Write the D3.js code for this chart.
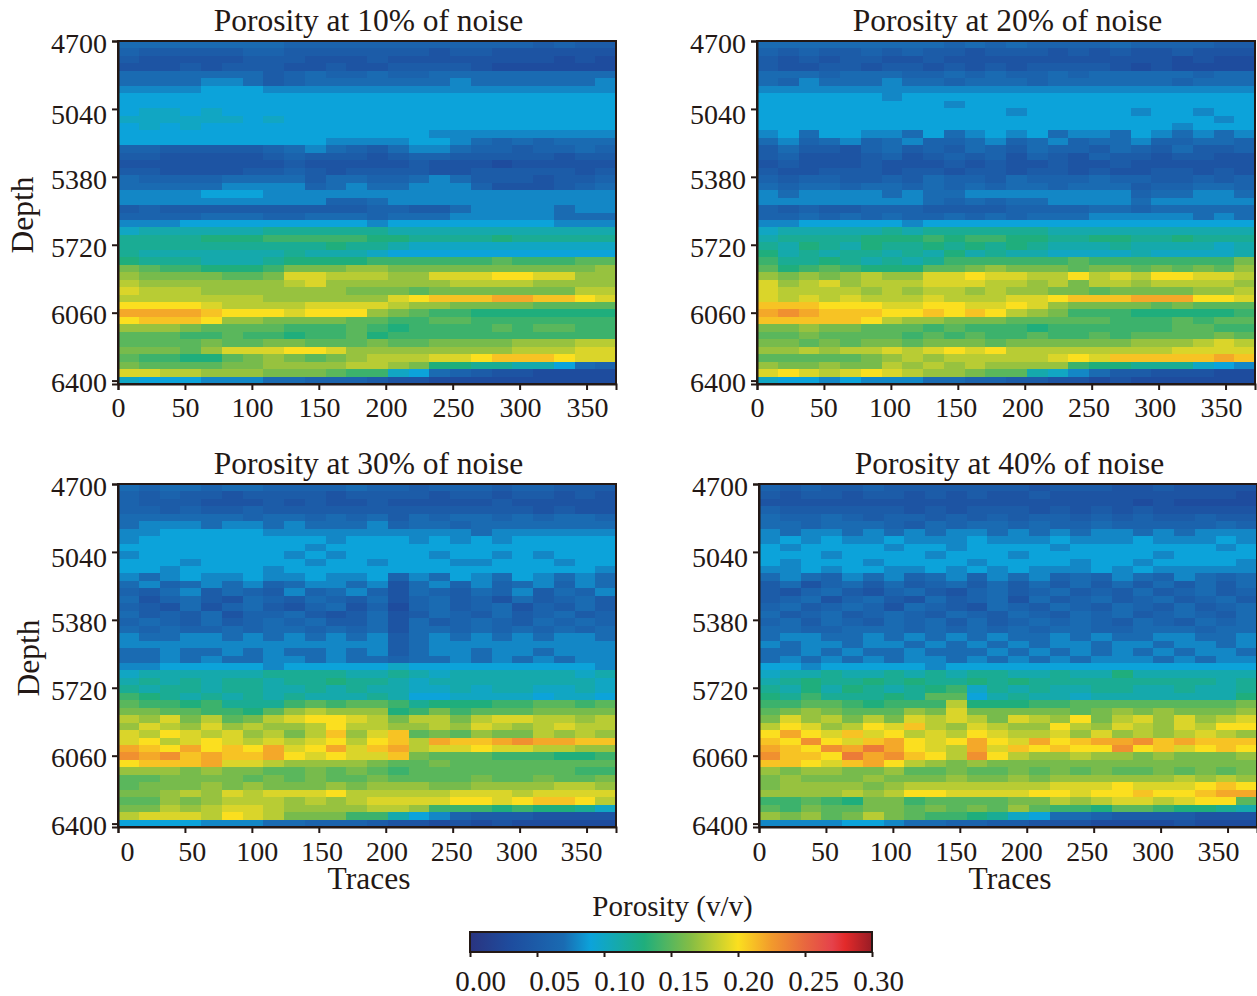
<!DOCTYPE html>
<html lang="en">
<head>
    <meta charset="UTF-8">
    <title>Porosity at different noise levels</title>
    <script src="https://d3js.org/d3.v7.min.js"></script>
    <style>
        body { margin: 0; background: #fff; }
        svg { display: block; }
        text { font-family: "Liberation Serif", serif; font-size: 28px; fill: #231815; }
        .label { font-size: 31.5px; }
        .bar-text { font-size: 29px; }
        .domain, .tick line { stroke: #231815; stroke-width: 2; }
    </style>
</head>
<body>
    <svg id="chart" width="1257" height="996"></svg>

    <script>
        // tick labels
        const traceTicks = [0, 50, 100, 150, 200, 250, 300, 350];
        const depthTicks = [4700, 5040, 5380, 5720, 6060, 6400];
        const porosityTicks = [0, 0.05, 0.1, 0.15, 0.2, 0.25, 0.3];

        // colormap
        const cmapStops = [0, 0.03, 0.07, 0.09, 0.105, 0.13, 0.165, 0.2, 0.225, 0.25, 0.27, 0.28, 0.3];
        const cmapColors = ["#2a3480", "#1e4c9e", "#1a6bb2", "#0ca3da", "#13a8b8", "#1fae7c", "#86bd44", "#fbdf1f", "#f29a2c", "#e8673f", "#e5424b", "#e32a2a", "#981c25"];

        // porosity x 100, one row per depth step, one value per 15.5 traces
        const noise10 = [
            [7,7,7,7,7,7,7,7,6,6,6,6,6,6,6,6,6,6,6,6,5,6,5,5],
            [6,5,5,5,5,5,6,6,5,5,5,5,5,5,5,4,5,5,4,4,4,4,4,4],
            [5,4,4,4,4,4,5,5,5,4,4,4,5,4,4,4,4,4,4,4,4,3,4,3],
            [4,4,4,5,4,5,5,5,4,4,5,4,4,5,5,5,5,4,3,3,3,3,3,3],
            [7,7,7,7,7,7,7,5,6,7,6,6,7,6,6,7,7,7,7,7,7,7,7,7],
            [7,7,7,7,8,8,7,5,6,7,7,7,7,7,7,7,8,7,7,7,7,7,7,8],
            [8,8,8,8,9,9,9,8,8,8,8,8,8,8,8,8,8,8,8,8,8,8,8,8],
            [9,9,9,9,9,9,9,9,9,9,9,9,9,9,9,9,9,9,9,9,9,9,9,9],
            [9,9,9,9,9,9,9,9,9,9,9,9,9,9,9,9,9,9,9,9,9,9,9,9],
            [9,10,10,9,10,9,9,9,9,9,9,9,9,9,9,9,9,9,9,9,9,9,9,9],
            [10,10,10,10,10,10,9,10,9,9,9,9,9,9,9,9,9,9,9,9,9,9,9,9],
            [9,10,9,10,9,9,9,9,9,9,9,9,9,9,9,9,9,9,9,9,9,9,9,9],
            [9,9,9,9,9,9,9,9,9,9,9,9,9,9,9,8,8,8,8,8,8,8,8,8],
            [9,9,9,9,9,9,9,9,9,9,8,8,8,8,9,9,8,7,6,7,6,7,7,7],
            [6,6,5,5,5,5,5,6,7,8,7,6,5,7,8,8,7,6,6,5,6,6,7,6],
            [5,5,4,4,4,4,4,5,6,5,5,5,4,5,6,6,5,5,5,5,5,4,5,5],
            [4,4,4,4,4,4,4,4,5,4,4,4,4,4,5,4,4,4,3,4,4,4,4,4],
            [5,5,4,4,4,4,5,5,6,5,4,5,5,5,5,4,4,5,5,5,5,5,4,5],
            [7,6,6,6,6,7,7,7,7,5,7,7,6,6,7,8,7,5,5,5,4,5,5,6],
            [7,7,7,7,7,8,8,8,8,6,7,8,7,7,8,8,8,6,4,4,4,5,6,7],
            [8,8,8,8,9,9,9,8,8,8,8,8,8,8,8,8,8,8,8,8,8,8,8,8],
            [8,8,8,8,8,8,8,8,8,8,6,6,7,8,8,8,8,8,8,8,8,8,8,8],
            [5,6,5,5,5,5,5,5,5,5,5,5,6,6,5,5,7,8,8,8,8,7,8,8],
            [6,6,6,6,7,7,7,6,6,7,7,7,6,7,7,7,8,8,8,8,8,7,7,7],
            [8,8,8,9,9,9,9,9,9,9,9,9,8,9,9,9,9,9,9,9,9,8,8,8],
            [10,11,11,11,11,11,11,12,12,12,12,12,12,11,11,11,11,11,11,11,11,11,11,11],
            [12,12,12,12,13,13,13,14,14,14,14,14,13,13,12,12,12,12,13,12,12,12,12,12],
            [12,12,12,12,12,12,12,12,12,12,13,12,12,11,10,10,10,10,10,10,10,10,10,10],
            [12,11,11,11,11,11,11,11,12,11,11,11,10,9,9,9,9,9,9,9,9,9,9,9],
            [13,12,12,12,11,11,11,12,13,13,13,13,14,14,14,14,14,14,15,14,14,14,15,15],
            [16,15,14,14,13,13,13,14,16,16,16,17,17,16,16,16,16,16,16,16,16,16,16,17],
            [17,16,16,16,16,15,15,16,19,19,18,18,18,17,17,19,19,19,20,20,19,19,17,17],
            [18,17,17,17,17,17,17,17,18,19,17,17,17,17,17,17,18,18,18,18,17,17,17,17],
            [19,18,18,18,17,17,17,17,17,17,17,16,16,16,15,16,16,16,16,16,16,16,18,18],
            [18,18,18,18,18,18,18,17,17,17,17,17,17,19,20,21,21,21,22,22,21,21,20,19],
            [20,20,20,20,19,18,18,18,18,19,19,19,19,18,17,17,16,16,16,16,15,15,15,15],
            [22,22,22,22,21,20,20,20,19,20,20,20,17,16,15,14,14,13,13,13,13,13,13,13],
            [20,21,21,21,20,17,17,16,16,16,16,15,15,14,14,15,15,14,14,14,14,14,14,14],
            [17,17,17,16,15,15,15,15,14,14,14,15,14,13,14,14,14,14,15,14,15,15,14,14],
            [15,15,15,14,14,15,14,14,13,14,14,15,13,14,14,14,14,14,14,14,14,14,14,14],
            [15,15,15,15,16,15,15,16,16,15,15,15,16,15,15,16,16,16,16,17,17,17,18,18],
            [16,16,16,15,17,19,19,19,20,20,19,17,17,17,17,17,17,17,17,18,18,18,19,19],
            [15,14,14,13,13,15,16,17,16,15,16,17,18,18,18,19,19,20,21,21,21,20,19,19],
            [16,15,15,15,15,16,16,17,17,17,17,18,18,17,16,13,13,12,12,11,11,9,7,6],
            [19,19,18,18,17,17,17,16,16,16,15,14,14,10,9,7,6,5,4,4,3,3,3,3],
            [10,9,9,9,8,8,8,7,7,6,6,6,5,4,4,3,3,3,3,3,3,3,3,3]
        ];
        const noise20 = [
            [7,7,7,7,7,7,7,7,7,6,7,6,7,6,6,6,6,7,6,6,6,6,5,5],
            [6,5,6,5,5,6,5,6,5,5,4,5,5,5,4,5,4,5,4,4,5,4,4,4],
            [5,4,5,4,5,5,4,4,5,4,4,4,4,4,4,4,4,4,4,4,3,4,3,3],
            [5,4,4,5,5,4,5,5,4,5,4,5,4,5,5,5,5,4,3,4,3,3,3,3],
            [7,7,7,6,7,7,7,6,6,7,6,7,6,6,7,6,7,7,7,7,7,6,7,7],
            [7,6,8,7,7,7,8,7,7,6,7,7,7,6,7,7,7,7,7,7,6,7,7,7],
            [8,8,8,8,8,8,8,8,8,8,8,8,8,8,8,8,8,8,8,8,8,8,8,8],
            [9,9,9,9,9,9,8,9,9,9,9,9,9,9,9,9,9,9,9,9,9,9,9,9],
            [9,9,9,9,9,9,9,9,9,8,9,9,9,9,9,9,9,9,9,9,9,9,9,9],
            [9,9,9,9,9,9,9,9,9,9,9,9,8,9,9,9,9,9,8,9,9,8,9,9],
            [9,9,9,9,9,9,9,9,9,9,9,9,9,9,9,9,9,9,9,9,9,9,8,9],
            [9,9,9,9,9,9,9,9,9,9,9,9,9,9,9,9,9,9,9,9,8,9,9,9],
            [8,9,7,9,9,8,8,7,9,7,8,9,8,9,7,8,8,7,9,8,7,8,7,8],
            [7,8,6,7,8,6,7,8,6,6,7,8,6,7,8,6,7,7,8,6,6,7,7,6],
            [5,7,5,5,4,6,7,5,6,5,7,6,5,7,6,6,5,7,6,5,7,5,5,6],
            [5,6,4,4,4,5,6,4,5,6,5,6,4,6,5,4,6,5,5,4,5,5,4,4],
            [4,5,4,4,4,5,4,4,4,5,4,5,4,4,5,4,4,5,4,4,4,4,4,4],
            [5,4,4,5,5,5,4,5,5,4,5,5,4,5,5,4,5,4,4,5,5,4,5,4],
            [6,5,6,6,5,5,6,5,7,6,6,5,7,6,6,6,7,6,6,5,5,6,5,6],
            [7,6,7,7,6,7,7,6,7,6,7,6,7,7,6,7,7,7,5,6,6,7,7,6],
            [8,7,8,8,8,8,7,8,7,7,8,8,8,8,8,8,8,8,6,7,7,8,8,7],
            [8,8,8,8,8,8,8,8,7,6,7,6,7,7,8,8,8,8,7,8,8,8,8,8],
            [6,5,6,5,5,6,6,6,5,5,5,5,6,6,6,6,7,7,6,7,7,7,7,7],
            [6,6,7,6,7,6,7,6,6,7,6,7,6,7,7,7,8,8,8,8,8,7,8,7],
            [8,8,9,9,9,9,9,8,9,9,9,9,9,9,9,9,9,9,9,9,9,9,9,9],
            [10,11,11,11,11,11,12,11,12,12,12,12,12,12,11,11,11,11,11,11,11,11,11,11],
            [11,12,12,12,12,13,13,13,14,13,14,14,13,13,12,12,13,13,12,12,13,12,12,12],
            [12,11,13,12,11,13,12,12,13,12,13,12,13,12,11,11,11,12,11,11,11,11,10,11],
            [13,11,12,11,12,12,11,12,11,13,11,12,11,11,10,10,10,10,11,10,10,10,10,11],
            [14,12,12,13,12,11,12,11,12,14,14,14,14,14,14,15,14,14,14,14,14,14,14,16],
            [15,13,14,15,14,13,13,13,15,15,16,17,16,16,16,15,16,16,15,16,15,16,15,17],
            [17,16,17,16,17,18,17,17,19,19,20,19,19,18,18,20,18,19,18,20,20,19,19,18],
            [19,17,18,19,17,18,18,18,19,19,19,18,18,17,18,16,18,18,17,18,18,18,18,17],
            [19,18,18,18,18,17,18,17,18,18,17,18,17,17,16,16,15,16,16,16,16,17,17,18],
            [19,18,19,18,19,18,18,18,19,18,18,18,19,19,20,21,21,21,22,22,22,20,20,19],
            [21,21,21,20,20,20,19,19,20,20,19,19,20,19,17,16,16,16,16,15,16,15,15,15],
            [22,23,22,21,21,21,20,20,21,20,21,20,18,17,16,14,14,14,13,13,13,13,13,14],
            [21,21,21,21,21,20,18,17,17,16,16,16,15,15,15,15,15,14,14,14,15,14,15,15],
            [16,16,17,16,16,15,15,15,14,15,14,14,14,13,14,14,14,14,14,14,15,15,14,14],
            [15,15,16,15,15,15,15,14,15,14,15,14,14,15,14,14,15,14,15,15,15,15,16,15],
            [16,16,15,16,15,16,16,15,16,16,16,15,16,16,16,16,16,16,17,17,17,18,19,18],
            [17,17,18,17,18,18,19,18,19,20,19,20,18,18,18,18,18,18,18,18,19,19,19,19],
            [15,15,15,15,15,16,17,18,17,18,18,18,18,18,19,20,19,21,21,21,21,21,22,21],
            [17,16,16,17,16,16,18,17,18,17,18,17,17,17,17,14,13,13,12,12,12,10,9,8],
            [19,20,19,18,19,20,19,18,17,17,16,15,15,11,10,8,7,5,5,4,4,4,3,3],
            [10,9,9,8,9,8,8,8,7,7,6,6,5,5,4,4,3,4,3,3,3,3,3,3]
        ];
        const noise30 = [
            [7,6,7,7,6,7,7,6,6,6,6,7,6,6,5,6,6,6,5,6,6,5,5,5],
            [6,5,6,5,5,4,5,5,5,5,4,5,5,5,5,4,5,5,4,5,5,4,5,4],
            [6,5,5,5,4,4,4,5,4,5,4,4,5,4,4,4,4,4,5,4,4,4,4,4],
            [6,6,5,6,5,5,6,5,5,5,5,5,5,5,5,5,5,5,5,5,4,5,4,4],
            [7,7,7,7,7,7,6,7,7,6,7,6,7,5,7,6,7,7,6,7,6,7,7,6],
            [7,8,8,8,7,8,8,7,8,7,7,7,8,6,7,7,6,7,7,7,7,7,7,7],
            [8,8,9,9,9,9,9,8,8,8,8,8,8,8,8,8,8,7,8,8,8,8,8,8],
            [8,9,9,9,9,9,9,9,9,9,8,9,9,9,8,9,8,9,8,9,9,9,9,9],
            [9,9,9,9,9,9,9,9,9,8,9,9,9,9,9,9,9,9,9,9,9,9,9,9],
            [8,9,9,9,9,9,9,9,8,9,8,9,9,9,9,8,9,9,8,9,8,9,9,9],
            [9,9,9,8,9,9,9,9,9,8,9,9,8,9,9,9,8,8,9,9,9,8,9,9],
            [9,9,8,9,9,9,9,8,9,9,9,9,9,9,9,9,9,9,9,9,9,9,9,8],
            [8,7,8,9,8,8,9,8,8,9,8,8,9,6,8,7,9,8,7,9,8,7,8,7],
            [7,8,6,7,8,7,8,6,7,8,8,7,8,4,7,8,6,8,6,7,8,6,8,7],
            [6,5,7,8,5,7,6,5,8,6,7,8,6,4,7,6,5,7,6,8,5,7,6,8],
            [7,4,6,7,5,4,7,6,5,7,6,5,7,4,6,7,5,6,4,7,5,6,7,5],
            [6,5,4,7,4,6,7,5,4,6,7,4,6,3,6,7,5,6,7,4,6,5,7,5],
            [7,5,6,5,7,4,6,6,7,5,4,5,7,4,5,7,6,5,7,5,6,7,5,6],
            [6,7,6,5,7,5,6,7,6,7,5,5,7,4,7,5,6,7,6,5,7,6,7,6],
            [7,6,7,6,6,7,6,7,7,6,7,6,7,4,7,7,6,7,6,7,6,7,6,7],
            [8,7,7,8,8,7,8,7,8,7,8,7,8,5,7,8,7,8,7,8,7,8,8,7],
            [8,8,8,8,8,8,8,8,8,8,8,8,8,5,7,8,8,8,8,8,8,8,8,8],
            [7,7,8,7,7,8,7,8,7,7,8,7,8,5,7,8,8,7,8,8,7,8,8,8],
            [7,7,8,7,8,7,7,8,8,7,8,7,7,6,7,7,8,7,8,7,8,7,8,8],
            [8,8,9,9,9,9,9,8,9,9,9,9,9,10,9,9,9,9,9,9,9,9,9,8],
            [10,11,11,11,11,11,11,12,12,12,12,11,11,12,11,10,11,11,11,11,11,11,10,11],
            [11,12,11,12,11,12,12,11,12,12,13,12,12,11,10,11,11,11,11,11,11,11,11,10],
            [12,11,12,12,11,12,12,11,11,12,11,12,11,11,10,10,11,10,11,11,10,10,11,10],
            [14,13,12,11,12,11,12,11,12,11,11,11,12,11,9,9,10,10,10,10,9,10,10,9],
            [15,14,14,13,14,12,12,12,14,15,14,15,15,14,12,13,13,13,14,14,15,15,14,15],
            [16,16,15,15,14,14,13,15,17,18,17,17,17,13,14,16,14,15,15,15,16,16,16,16],
            [18,17,19,16,18,15,16,18,19,20,20,19,18,16,18,18,16,18,19,19,18,18,17,18],
            [17,19,18,17,19,17,18,17,17,18,20,18,18,17,17,18,17,19,18,17,18,19,18,18],
            [19,18,20,19,18,19,17,18,16,18,21,17,19,21,15,16,15,17,16,16,18,17,18,17],
            [19,20,18,19,20,19,18,19,18,19,20,18,20,21,18,22,21,21,22,23,22,22,21,21],
            [22,21,20,22,20,21,20,22,19,20,22,19,21,22,18,19,19,20,19,19,18,18,17,17],
            [23,22,23,21,22,21,21,22,20,19,20,19,19,21,16,15,15,15,14,14,14,13,13,14],
            [20,21,21,21,22,19,19,18,17,17,17,17,16,15,15,16,15,15,15,15,15,15,15,15],
            [17,17,17,16,17,16,16,15,15,16,15,16,15,14,15,15,15,15,15,15,15,15,14,14],
            [15,15,16,16,16,16,15,16,15,16,15,15,16,15,15,15,15,16,15,15,16,15,15,16],
            [15,16,16,16,17,16,17,16,16,16,17,16,17,17,17,16,16,17,17,17,17,18,18,17],
            [16,16,17,18,17,19,18,19,19,19,20,18,18,18,18,18,19,19,19,18,19,19,19,19],
            [15,15,17,16,17,18,18,18,17,18,17,18,19,19,19,19,20,20,19,20,21,21,20,18],
            [16,16,18,17,18,19,19,18,17,17,17,17,18,18,17,14,14,14,13,14,13,13,12,10],
            [18,19,19,19,18,20,19,18,16,16,16,14,14,11,9,8,6,5,5,5,4,4,4,4],
            [9,9,9,9,8,8,8,7,7,6,6,6,5,4,4,3,4,3,4,3,3,3,3,3]
        ];
        const noise40 = [
            [6,5,6,5,5,6,5,5,5,5,5,5,5,4,5,5,5,4,4,5,4,4,4,4],
            [5,4,5,5,4,5,5,4,5,4,5,4,4,5,4,4,4,4,4,4,4,4,4,3],
            [4,4,4,4,4,4,4,4,4,4,4,4,4,4,4,4,4,4,3,4,3,3,3,3],
            [6,5,5,5,5,5,5,4,5,4,5,5,5,4,5,4,5,4,5,4,4,4,4,4],
            [7,6,6,7,6,5,6,6,5,6,5,6,5,6,6,5,6,5,6,5,5,6,5,5],
            [7,7,6,7,7,7,6,5,7,6,7,7,6,7,6,6,7,6,6,6,6,6,7,6],
            [8,7,8,8,7,8,7,8,7,8,8,7,8,7,8,7,8,8,7,8,7,8,8,8],
            [8,9,8,9,8,8,9,8,8,8,9,8,8,8,9,8,8,8,9,8,8,8,9,8],
            [9,8,9,9,9,9,8,9,9,8,9,9,9,9,8,9,9,9,9,9,9,9,8,9],
            [9,9,9,8,9,9,9,9,8,9,9,9,8,9,9,9,9,9,9,8,9,9,9,9],
            [9,8,9,9,9,8,9,9,9,9,8,9,9,9,9,8,9,9,8,9,9,9,9,8],
            [8,8,9,8,9,9,8,8,9,8,9,8,9,8,8,8,9,8,9,8,8,8,8,8],
            [7,8,7,6,8,7,8,6,7,8,6,8,7,8,6,7,6,8,7,6,8,7,6,7],
            [5,7,4,6,7,5,7,5,6,7,5,7,5,7,5,7,5,7,5,7,5,7,5,7],
            [5,4,6,7,5,4,6,7,5,4,6,7,5,6,7,5,6,5,7,5,6,7,5,6],
            [5,6,7,4,6,7,5,4,7,5,6,7,4,7,5,6,7,5,6,7,5,6,7,5],
            [6,7,5,6,7,6,4,7,6,5,4,7,6,5,7,6,5,7,6,5,7,5,6,7],
            [7,5,6,7,5,6,7,6,5,7,6,5,7,6,5,7,6,7,5,6,7,6,5,7],
            [6,7,5,7,6,5,7,6,7,5,7,5,6,7,6,7,6,5,7,6,5,7,6,7],
            [7,7,6,6,7,7,7,6,7,6,7,6,7,6,7,7,6,6,7,7,7,6,7,7],
            [7,8,8,7,7,8,7,8,7,8,7,8,7,7,8,7,8,7,7,8,8,7,7,8],
            [8,7,8,8,7,8,8,7,8,7,8,7,8,7,8,8,7,8,8,7,8,8,7,8],
            [7,7,8,7,8,7,7,8,7,7,7,8,7,8,7,8,7,8,7,8,7,8,8,7],
            [7,8,7,8,7,8,7,8,8,7,8,7,8,7,8,7,8,8,8,7,8,7,8,8],
            [9,9,8,9,9,9,9,9,8,9,9,9,9,9,9,9,9,9,9,9,9,9,9,9],
            [10,11,11,12,11,11,12,11,12,11,12,12,11,11,12,11,11,13,11,11,11,11,11,11],
            [11,12,13,12,12,13,12,13,12,12,13,12,13,12,12,12,12,12,12,12,12,12,11,12],
            [12,11,13,11,13,12,11,12,13,14,10,12,11,12,11,11,12,12,11,11,12,11,11,12],
            [13,12,14,12,12,12,13,12,15,15,9,11,12,11,11,10,11,11,11,11,11,11,11,13],
            [14,14,15,15,14,13,14,14,14,18,13,13,13,14,14,15,15,15,15,15,15,15,15,16],
            [15,16,17,16,15,15,15,17,16,19,16,16,16,16,16,15,16,17,16,17,16,16,16,17],
            [16,19,17,18,16,18,16,19,18,19,18,16,19,18,17,20,16,18,19,17,19,17,18,19],
            [18,20,19,17,18,20,19,21,18,17,19,18,17,17,20,18,17,19,18,17,19,18,20,20],
            [20,22,20,19,21,19,20,18,19,18,20,19,18,18,19,17,19,17,18,17,18,19,18,17],
            [21,20,23,20,19,21,22,20,19,20,22,20,19,22,20,21,22,22,23,21,22,21,21,21],
            [22,21,20,23,22,24,22,20,19,18,22,19,21,20,21,20,20,23,20,21,19,20,21,20],
            [23,21,21,20,24,22,23,21,20,18,23,20,18,17,17,18,17,17,16,17,16,16,16,17],
            [21,21,20,19,21,22,20,18,17,16,17,16,16,16,16,16,16,16,16,16,16,16,16,16],
            [17,16,17,17,16,16,17,15,15,16,15,15,16,15,16,15,16,15,15,16,15,16,15,16],
            [16,17,16,16,16,17,16,16,16,17,16,16,17,16,17,17,17,17,17,17,18,17,18,17],
            [16,17,17,17,17,16,17,18,18,18,18,18,18,18,19,19,19,20,19,19,19,20,21,20],
            [17,17,17,17,18,17,18,20,20,19,19,19,19,20,20,19,20,20,21,20,20,21,22,22],
            [14,14,15,14,13,16,16,14,15,15,15,15,16,16,18,17,18,19,19,18,19,20,20,15],
            [15,14,16,15,15,16,16,15,16,15,16,15,17,15,14,14,13,15,15,14,13,13,12,11],
            [17,16,17,15,16,18,16,15,14,14,13,12,10,9,7,7,6,5,5,5,5,4,4,4],
            [8,8,8,8,9,9,8,7,7,6,6,5,5,4,4,4,3,3,3,3,4,3,3,3]
        ];

        const panels = [
            { title: "Porosity at 10% of noise", values: noise10, left: 118, top: 41, xLabels: [118, 587], depth: 24, depthY: 215 },
            { title: "Porosity at 20% of noise", values: noise20, left: 757, top: 41, xLabels: [757, 1221] },
            { title: "Porosity at 30% of noise", values: noise30, left: 118, top: 484, xLabels: [127, 581], depth: 30, depthY: 658, traces: true },
            { title: "Porosity at 40% of noise", values: noise40, left: 759, top: 484, xLabels: [759, 1218], traces: true }
        ];

        const panelWidth = 498, panelHeight = 343;
        const maxTrace = 372, maxDepth = 6417;
        const traceStep = 15.5;
        const depthStep = (maxDepth - 4700) / noise10.length;
        const depthLabelDy = [3, 6, 3, 3, 2, 2];

        const svg = d3.select("#chart");
        const color = d3.scaleLinear().domain(cmapStops).range(cmapColors).clamp(true);

        panels.forEach(p => {
            const x = d3.scaleLinear().domain([0, maxTrace]).range([p.left, p.left + panelWidth]);
            const y = d3.scaleLinear().domain([4700, maxDepth]).range([p.top, p.top + panelHeight]);
            const xLabel = d3.scaleLinear().domain([0, 350]).range(p.xLabels);

            // heatmap cells
            const g = svg.append("g").attr("shape-rendering", "crispEdges");
            p.values.forEach((row, r) => {
                g.selectAll(null)
                    .data(row)
                    .enter()
                    .append("rect")
                    .attr("x", (d, c) => x(c * traceStep))
                    .attr("y", y(4700 + r * depthStep))
                    .attr("width", x(traceStep) - x(0) + 0.5)
                    .attr("height", y(4700 + depthStep) - y(4700) + 0.5)
                    .attr("fill", d => color(d / 100));
            });

            // axes
            svg.append("g")
                .attr("transform", `translate(0,${p.top + panelHeight})`)
                .call(d3.axisBottom(x).tickValues(traceTicks).tickSizeOuter(0).tickSize(6))
                .call(a => a.selectAll("text")
                    .attr("x", d => xLabel(d) - x(d))
                    .attr("y", p.traces ? 14 : 13));

            svg.append("g")
                .attr("transform", `translate(${p.left},0)`)
                .call(d3.axisLeft(y).tickValues(depthTicks).tickFormat(d3.format("d")).tickSizeOuter(0).tickSize(6))
                .call(a => a.selectAll("text")
                    .attr("x", -11)
                    .attr("y", (d, i) => depthLabelDy[i]));

            // frame
            svg.append("rect")
                .attr("x", p.left)
                .attr("y", p.top)
                .attr("width", panelWidth)
                .attr("height", panelHeight)
                .attr("fill", "none")
                .attr("stroke", "#231815")
                .attr("stroke-width", 2);

            svg.append("text")
                .attr("class", "label")
                .attr("x", p.left + 250.5)
                .attr("y", p.top - 10)
                .attr("text-anchor", "middle")
                .text(p.title);

            if (p.traces) {
                svg.append("text")
                    .attr("class", "label")
                    .attr("x", p.left + 251)
                    .attr("y", p.top + panelHeight + 62)
                    .attr("text-anchor", "middle")
                    .text("Traces");
            }

            if (p.depth) {
                svg.append("text")
                    .attr("class", "label")
                    .attr("transform", `translate(${p.depth + 9},${p.depthY}) rotate(-90)`)
                    .attr("text-anchor", "middle")
                    .text("Depth");
            }
        });

        // colorbar
        const barX = d3.scaleLinear().domain([0, 0.3]).range([470, 872]);
        const barLabelX = [480, 554, 619, 683, 748, 813, 878];

        const gradient = svg.append("defs").append("linearGradient").attr("id", "porosity-gradient");
        gradient.selectAll("stop")
            .data(cmapStops)
            .enter()
            .append("stop")
            .attr("offset", d => d / 0.3)
            .attr("stop-color", d => color(d));

        svg.append("rect")
            .attr("x", barX(0))
            .attr("y", 932)
            .attr("width", barX(0.3) - barX(0))
            .attr("height", 20)
            .attr("fill", "url(#porosity-gradient)")
            .attr("stroke", "#231815")
            .attr("stroke-width", 2);

        svg.append("g")
            .attr("transform", "translate(0,952)")
            .call(d3.axisBottom(barX).tickValues(porosityTicks).tickSizeOuter(0).tickSize(5).tickFormat(d3.format(".2f")))
            .call(a => a.select(".domain").remove())
            .call(a => a.selectAll("text")
                .attr("class", "bar-text")
                .attr("x", (d, i) => barLabelX[i] - barX(d))
                .attr("y", 18));

        svg.append("text")
            .attr("class", "bar-text")
            .attr("x", 672.5)
            .attr("y", 916)
            .attr("text-anchor", "middle")
            .text("Porosity (v/v)");

        // d3.axis sets its own font on the axis group
        svg.selectAll("g").attr("font-family", null).attr("font-size", null);
    </script>
</body>
</html>
